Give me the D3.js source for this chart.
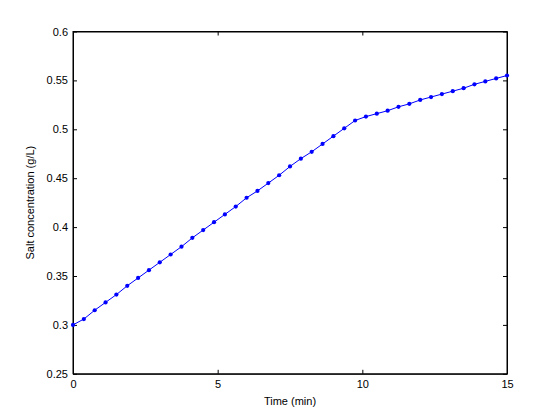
<!DOCTYPE html>
<html>
<head>
<meta charset="utf-8">
<script src="https://cdn.jsdelivr.net/npm/d3@7"></script>
<style>
  body { margin: 0; background: #fff; }
  svg text { font-family: "Liberation Sans", Arial, sans-serif; font-size: 11px; fill: #000; }
</style>
</head>
<body>
<div id="chart"></div>
<script>
// sample times: 0 to 15 min, 41 samples
const times = d3.range(41).map(i => i * 0.375);
const salt = [
  0.300, 0.306, 0.315, 0.323, 0.331, 0.340, 0.348, 0.356, 0.364, 0.372,
  0.380, 0.389, 0.397, 0.405, 0.413, 0.421, 0.430, 0.437, 0.445, 0.453,
  0.462, 0.470, 0.477, 0.485, 0.493, 0.501, 0.509, 0.513, 0.516, 0.519,
  0.523, 0.526, 0.530, 0.533, 0.536, 0.539, 0.542, 0.546, 0.549, 0.552,
  0.555
];
const xTicks = [0, 5, 10, 15];
const yTicks = [0.25, 0.3, 0.35, 0.4, 0.45, 0.5, 0.55, 0.6];

const w = 560;
const h = 420;
const padL = 73, padR = 507, padT = 31.5, padB = 373.8;
const tickLen = 4;

const xScale = d3.scaleLinear().domain([0, 15]).range([padL, padR]);
const yScale = d3.scaleLinear().domain([0.25, 0.6]).range([padB, padT]);

const svg = d3.select('#chart').append('svg').attr('width', w).attr('height', h);

// bottom / left axes with inward ticks
const xAxis = d3.axisBottom(xScale).tickValues(xTicks).tickFormat(d3.format('')).tickSizeInner(-tickLen).tickSizeOuter(0);
const yAxis = d3.axisLeft(yScale).tickValues(yTicks).tickFormat(d => String(+d.toFixed(2))).tickSizeInner(-tickLen).tickSizeOuter(0);
const xTop = d3.axisTop(xScale).tickValues(xTicks).tickFormat('').tickSizeInner(-tickLen).tickSizeOuter(0);
const yRight = d3.axisRight(yScale).tickValues(yTicks).tickFormat('').tickSizeInner(-tickLen).tickSizeOuter(0);

const gx = svg.append('g').attr('transform', 'translate(0,' + padB + ')').call(xAxis);
const gy = svg.append('g').attr('transform', 'translate(' + padL + ',0)').call(yAxis);
svg.append('g').attr('transform', 'translate(0,' + padT + ')').call(xTop);
svg.append('g').attr('transform', 'translate(' + padR + ',0)').call(yRight);

svg.selectAll('.domain').attr('stroke', '#000');
svg.selectAll('.tick line').attr('stroke', '#000');
svg.selectAll('g').attr('font-size', null).attr('font-family', null);
gx.selectAll('.tick text').attr('dy', '0.71em').attr('y', 6);
gy.selectAll('.tick text').attr('x', -5);

// frame
svg.append('rect')
  .attr('x', padL).attr('y', padT)
  .attr('width', padR - padL).attr('height', padB - padT)
  .attr('fill', 'none').attr('stroke', '#000').attr('stroke-width', 1);

const points = times.map((t, i) => [t, salt[i]]);

svg.append('path')
  .datum(points)
  .attr('fill', 'none')
  .attr('stroke', '#0000ff')
  .attr('stroke-width', 1)
  .attr('d', d3.line().x(d => xScale(d[0])).y(d => yScale(d[1])));

svg.selectAll('circle.pt')
  .data(points)
  .enter()
  .append('circle')
  .attr('class', 'pt')
  .attr('cx', d => xScale(d[0]))
  .attr('cy', d => yScale(d[1]))
  .attr('r', 2.1)
  .attr('fill', '#0000ff');

svg.append('text')
  .attr('x', (padL + padR) / 2)
  .attr('y', 405)
  .attr('text-anchor', 'middle')
  .text('Time (min)');

svg.append('text')
  .attr('transform', 'translate(34,' + (padT + padB) / 2 + ') rotate(-90)')
  .attr('text-anchor', 'middle')
  .text('Salt concentration (g/L)');
</script>
</body>
</html>
